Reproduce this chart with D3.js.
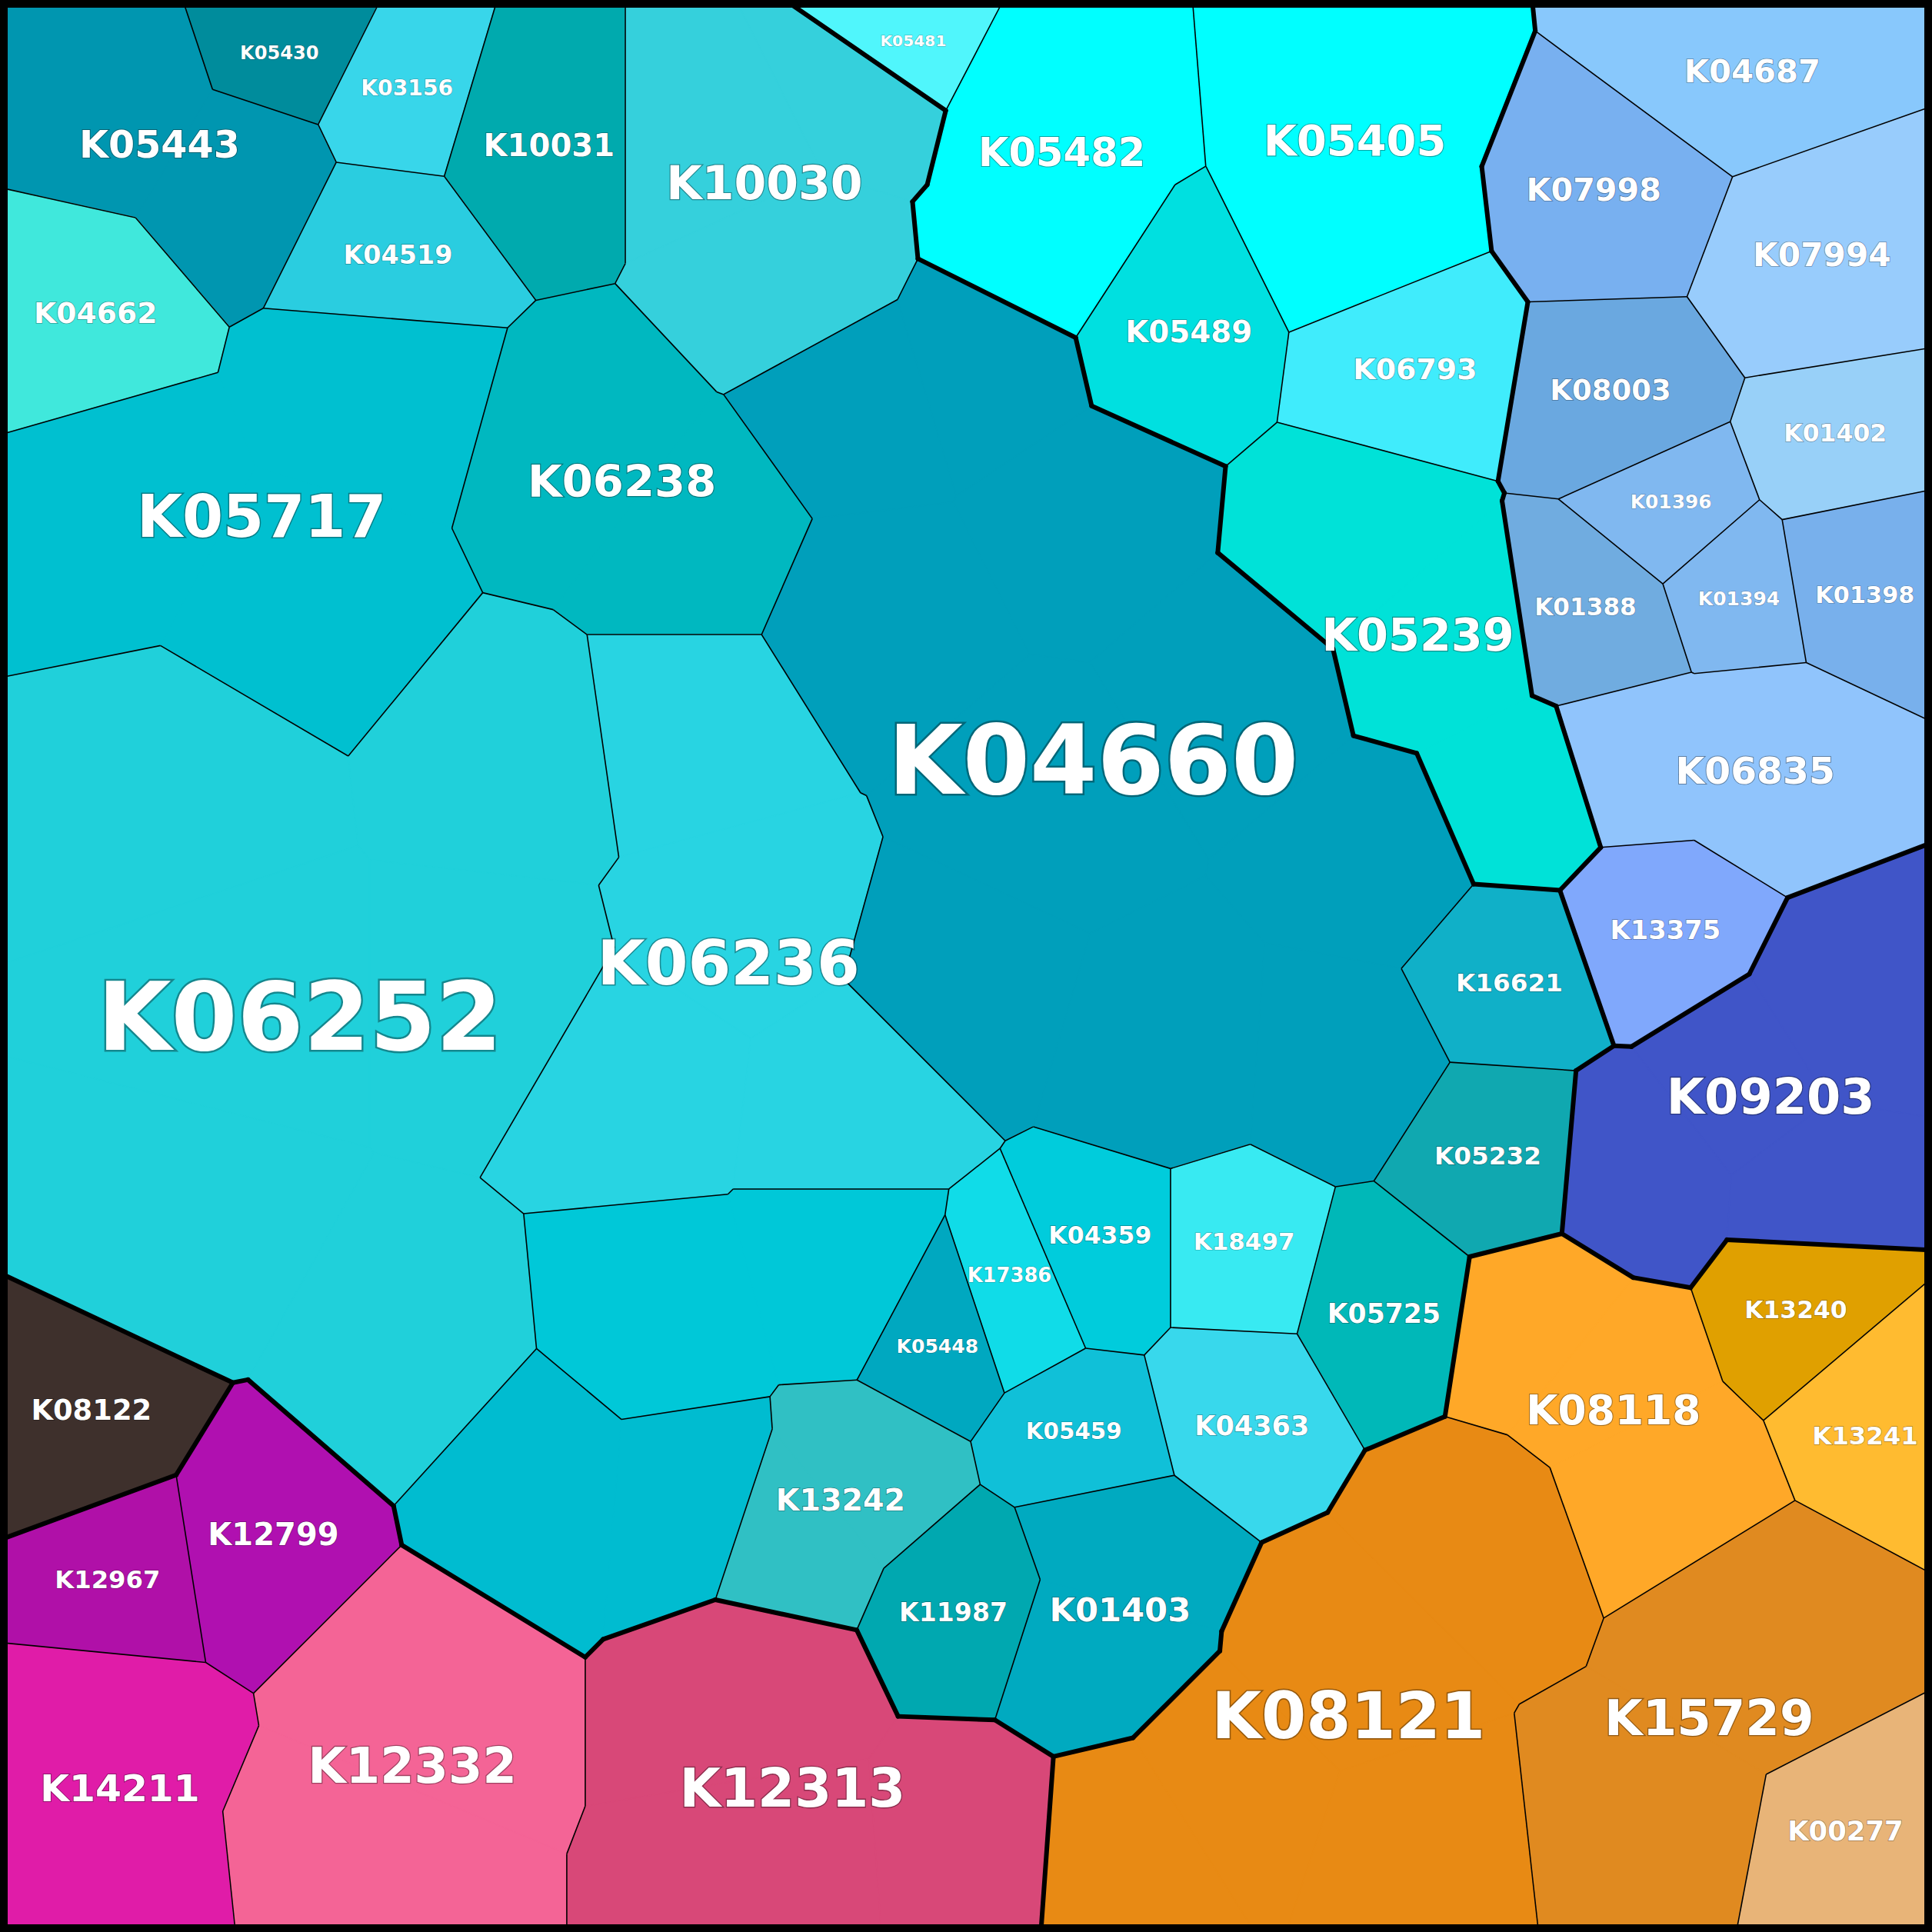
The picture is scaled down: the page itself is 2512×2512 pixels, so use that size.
<!DOCTYPE html>
<html><head><meta charset="utf-8">
<script src="https://cdn.jsdelivr.net/npm/d3@7"></script>
<style>body{margin:0;background:#000}</style></head>
<body><svg id="c" width="2512" height="2512"></svg>
<script>
const names = ["K05443","K05430","K03156","K10031","K10030","K04519","K04662","K05717","K06238","K06252","K06236","","","K04660","K16621","K05232","K05725","K18497","K04359","K17386","K05448","K04363","K05459","K13242","K11987","K01403",
"K05481","K05482","K05405","K05489","K06793","K05239",
"K04687","K07998","K07994","K08003","K01402","K01396","K01398","K01394","K01388","K06835","K13375",
"K09203",
"K08118","K13240","K13241","K08121","K15729","K00277",
"K08122",
"K12967","K12799","K14211","K12332","K12313"];
const groups = [0,0,0,0,0,0,0,0,0,0,0,0,0,0,0,0,0,0,0,0,0,0,0,0,0,0, 1,1,1,1,1,1, 2,2,2,2,2,2,2,2,2,2,2, 3, 4,4,4,4,4,4, 5, 6,6,6,6,6];
const colors = ["#0096b0","#008c9c","#38d6ea","#00aaae","#35d0dc","#2acde0","#40e8dc","#00c0d0","#00b8c0","#20d0da","#28d4e2","#00c8d8","#00bcd0","#009fbb","#10b0c8","#10a8b0","#00b8b8","#38eaf2","#00ccdc","#10dce8","#00a8c0","#38d8ec","#10c0d8","#30c0c4","#00a8b0","#00aac0",
"#50f6fc","#00ffff","#00ffff","#00e0e0","#40ecfc","#00e2d8",
"#88c8fc","#78b0f0","#98ccfc","#6aa8e0","#98d0f8","#80b8f0","#78b0ec","#80b8f0","#70ace0","#90c4fc","#80a8fc",
"#4055c8",
"#ffa828","#e0a000","#ffbb30","#e88a14","#e08a20","#e8b478",
"#3e302c",
"#b010a8","#b010b0","#e01ca8","#f46496","#d84878"];
// seed sites (cell index, x, y) in a 1568-unit frame
const seeds = [[0,100,80],[0,200,140],[1,235,35],[2,325,80],[3,425,110],[4,590,110],[4,640,220],[4,690,60],[5,310,195],[6,60,260],
[7,100,400],[7,300,320],[7,250,480],[8,480,370],[8,560,430],
[9,150,650],[9,420,620],[9,200,800],[9,400,800],[9,150,1000],[9,330,1100],
[10,560,600],[10,600,750],[10,520,870],[10,690,890],[11,540,1080],[11,690,1040],[12,440,1200],[12,560,1210],
[13,700,330],[13,800,300],[13,880,420],[13,1000,560],[13,1120,700],[13,720,500],[13,850,650],[13,780,800],[13,950,850],[13,1090,860],
[14,1225,790],[15,1215,940],[16,1120,1060],[17,1005,1030],[18,895,1030],[19,825,1060],[20,765,1080],[21,1000,1130],[22,880,1160],[23,650,1240],[23,700,1200],[24,787,1300],[25,900,1260],[25,880,1330],
[26,712,28],[27,850,100],[27,850,200],[28,1100,80],[28,1100,190],[29,950,265],[30,1140,290],[31,1100,440],[31,1170,520],[31,1235,650],
[32,1400,50],[33,1315,165],[34,1460,220],[35,1320,320],[36,1485,375],[37,1365,420],[38,1500,450],[39,1405,466],[40,1300,500],[41,1420,620],[41,1330,620],[42,1340,750],
[43,1420,880],[43,1330,950],[43,1500,830],[43,1480,960],
[44,1300,1120],[44,1340,1200],[44,1250,1080],[45,1475,1060],[46,1530,1125],[47,1000,1450],[47,1100,1350],[47,1200,1250],[47,1150,1500],[47,920,1500],[48,1420,1330],[48,1330,1480],[49,1515,1515],
[50,70,1170],
[51,105,1265],[52,200,1250],[53,90,1420],[53,90,1520],[54,330,1380],[54,280,1500],[55,620,1380],[55,640,1500],[55,780,1490]];

const W=2512, H=2512, pad=8;
const sx = d3.scaleLinear().domain([0,1568]).range([0,W]);
const sy = d3.scaleLinear().domain([0,1568]).range([0,H]);
const pts = seeds.map(d=>[sx(d[1]), sy(d[2])]);
const del = d3.Delaunay.from(pts);
const vor = del.voronoi([pad,pad,W-pad,H-pad]);
const svg = d3.select("#c");
svg.append("rect").attr("width",W).attr("height",H).attr("fill","#000");
const g = svg.append("g");
seeds.forEach((d,i)=>{
  g.append("path").attr("d",vor.renderCell(i)).attr("fill",colors[d[0]]).attr("stroke",colors[d[0]]).attr("stroke-width",1.5);
});
const thin=[], thick=[];
seeds.forEach((d,i)=>{
  const poly = vor.cellPolygon(i); if(!poly) return;
  const [cx,cy]=pts[i];
  for(let k=0;k<poly.length-1;k++){
    const a=poly[k], b=poly[k+1];
    const mx=(a[0]+b[0])/2, my=(a[1]+b[1])/2;
    let nx=mx-cx, ny=my-cy; const L=Math.hypot(nx,ny)||1;
    const px=mx+nx/L*3, py=my+ny/L*3;
    if(px<=pad||py<=pad||px>=W-pad||py>=H-pad) continue;
    const j=del.find(px,py);
    if(j<=i) continue;
    const ci=d[0], cj=seeds[j][0];
    if(ci===cj) continue;
    (groups[ci]!==groups[cj]?thick:thin).push([a,b]);
  }
});
g.selectAll(".thin").data(thin).join("line").attr("x1",d=>d[0][0]).attr("y1",d=>d[0][1]).attr("x2",d=>d[1][0]).attr("y2",d=>d[1][1]).attr("stroke","#000").attr("stroke-width",1.6);
g.selectAll(".thick").data(thick).join("line").attr("x1",d=>d[0][0]).attr("y1",d=>d[0][1]).attr("x2",d=>d[1][0]).attr("y2",d=>d[1][1]).attr("stroke","#000").attr("stroke-width",6).attr("stroke-linecap","round");
svg.append("rect").attr("x",pad/2).attr("y",pad/2).attr("width",W-pad).attr("height",H-pad).attr("fill","none").attr("stroke","#000").attr("stroke-width",pad+4);
names.forEach((n,c)=>{
  if(!n) return;
  let A=0, X=0, Y=0, x0=1e9, x1=-1e9;
  seeds.forEach((d,i)=>{ if(d[0]!==c) return; const p=vor.cellPolygon(i); const a=Math.abs(d3.polygonArea(p)); const ct=d3.polygonCentroid(p); A+=a; X+=ct[0]*a; Y+=ct[1]*a; p.forEach(q=>{x0=Math.min(x0,q[0]);x1=Math.max(x1,q[0]);}); });
  X/=A; Y/=A;
  const fs=Math.max(8,Math.min(0.15*Math.sqrt(A),(x1-x0)*0.9/3.9));
  svg.append("text").attr("x",X).attr("y",Y).attr("text-anchor","middle").attr("dominant-baseline","central")
    .attr("font-family","DejaVu Sans").attr("font-weight","bold").attr("font-size",fs).attr("fill","#fff")
    .attr("stroke","rgba(0,0,0,0.35)").attr("stroke-width",Math.max(1,fs*0.04)).attr("paint-order","stroke").text(n);
});
</script></body></html>
